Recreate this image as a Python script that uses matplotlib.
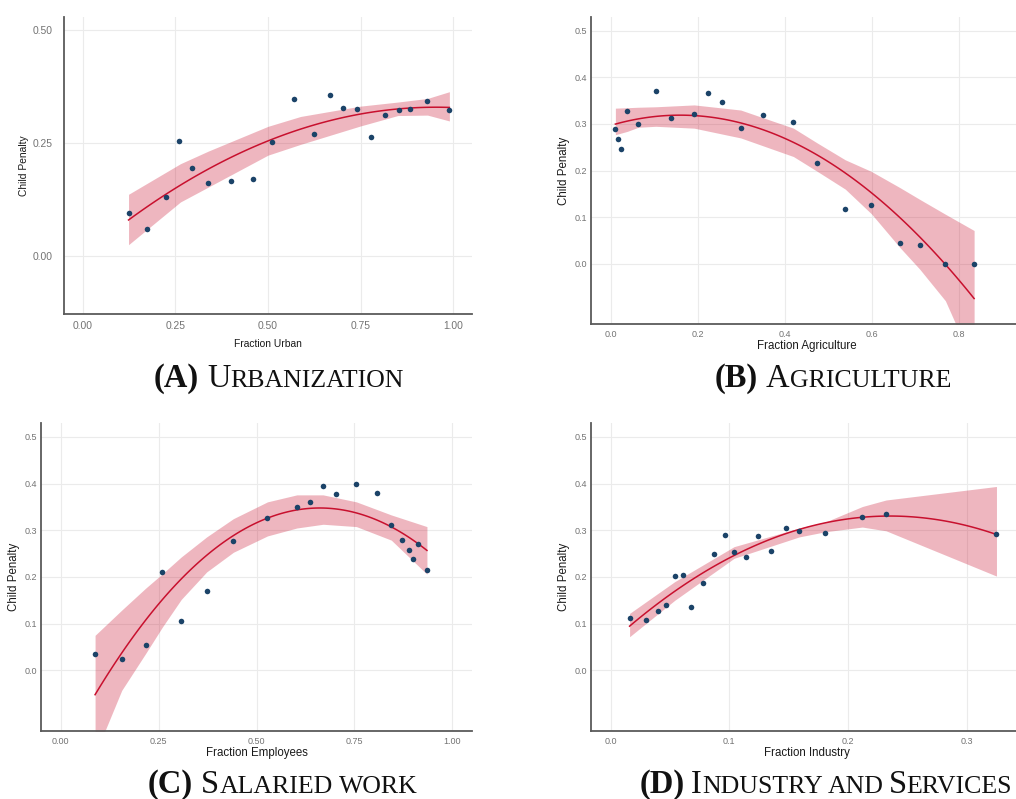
import numpy as np
import matplotlib
matplotlib.use("Agg")
import matplotlib.pyplot as plt

W, H = 1016, 799

# ---- data ----
urban_x = [0.124, 0.173, 0.226, 0.261, 0.296, 0.339, 0.399, 0.460, 0.512, 0.571,
           0.624, 0.668, 0.703, 0.739, 0.779, 0.815, 0.852, 0.883, 0.929, 0.989]
urban_y = [0.094, 0.058, 0.129, 0.254, 0.195, 0.161, 0.166, 0.169, 0.252, 0.347,
           0.271, 0.356, 0.328, 0.326, 0.264, 0.313, 0.323, 0.325, 0.344, 0.323]
# confidence band (read at a few x positions)
urban_bx = [0.124, 0.264, 0.339, 0.500, 0.588, 0.750, 0.850, 0.930, 0.989]
urban_hi = [0.136, 0.204, 0.232, 0.287, 0.309, 0.332, 0.341, 0.349, 0.364]
urban_lo = [0.024, 0.119, 0.152, 0.223, 0.247, 0.288, 0.311, 0.312, 0.299]

agri_x = [0.011, 0.018, 0.023, 0.038, 0.064, 0.104, 0.138, 0.192, 0.223, 0.256,
          0.299, 0.351, 0.420, 0.475, 0.539, 0.599, 0.665, 0.710, 0.769, 0.835]
agri_y = [0.290, 0.268, 0.247, 0.327, 0.300, 0.371, 0.312, 0.322, 0.366, 0.348,
          0.292, 0.320, 0.304, 0.217, 0.118, 0.126, 0.044, 0.039, 0.000, -0.002]
agri_bx = [0.011, 0.038, 0.064, 0.104, 0.192, 0.299, 0.420, 0.475, 0.539, 0.599,
           0.665, 0.710, 0.769, 0.835]
agri_hi = [0.334, 0.335, 0.336, 0.337, 0.341, 0.330, 0.291, 0.259, 0.223, 0.198,
           0.163, 0.138, 0.106, 0.071]
agri_lo = [0.277, 0.284, 0.293, 0.295, 0.291, 0.270, 0.230, 0.198, 0.160, 0.107,
           0.034, -0.012, -0.080, -0.219]

empl_x = [0.088, 0.156, 0.217, 0.260, 0.308, 0.373, 0.441, 0.528, 0.603, 0.636,
          0.670, 0.704, 0.755, 0.807, 0.844, 0.871, 0.889, 0.900, 0.911, 0.935]
empl_y = [0.034, 0.024, 0.054, 0.210, 0.105, 0.169, 0.278, 0.327, 0.350, 0.360,
          0.396, 0.378, 0.400, 0.381, 0.312, 0.280, 0.258, 0.238, 0.270, 0.216]
empl_bx = [0.088, 0.156, 0.217, 0.260, 0.308, 0.373, 0.441, 0.528, 0.603, 0.670,
           0.755, 0.844, 0.935]
empl_hi = [0.075, 0.129, 0.176, 0.207, 0.243, 0.286, 0.325, 0.361, 0.376, 0.376,
           0.361, 0.333, 0.308]
empl_lo = [-0.181, -0.043, 0.036, 0.093, 0.152, 0.211, 0.253, 0.288, 0.305, 0.313,
           0.308, 0.279, 0.206]

indu_x = [0.016, 0.030, 0.040, 0.047, 0.054, 0.061, 0.068, 0.078, 0.087, 0.096,
          0.104, 0.114, 0.124, 0.135, 0.148, 0.159, 0.181, 0.212, 0.232, 0.325]
indu_y = [0.112, 0.107, 0.127, 0.139, 0.202, 0.204, 0.136, 0.187, 0.250, 0.290,
          0.253, 0.243, 0.288, 0.255, 0.305, 0.298, 0.294, 0.329, 0.335, 0.293]
indu_bx = [0.016, 0.054, 0.104, 0.159, 0.181, 0.212, 0.232, 0.325]
indu_hi = [0.122, 0.190, 0.265, 0.305, 0.318, 0.351, 0.365, 0.394]
indu_lo = [0.072, 0.150, 0.240, 0.286, 0.297, 0.307, 0.299, 0.202]

urban_xticks = [0.0, 0.25, 0.5, 0.75, 1.0]
urban_yticks = [0.0, 0.25, 0.5]
agri_xticks = [0.0, 0.2, 0.4, 0.6, 0.8]
empl_xticks = [0.0, 0.25, 0.5, 0.75, 1.0]
indu_xticks = [0.0, 0.1, 0.2, 0.3]
tenth_yticks = [0.0, 0.1, 0.2, 0.3, 0.4, 0.5]

POINT = "#1b4368"
LINE = "#c8102e"
BAND = "#c8102e"


def panel(rect, x, y, bx, blo, bhi, xlim, xticks, xfmt, yticks, yfmt, xlabel,
          lab_size, tick_size, ypad, xpad, xlabpad):
    ax = fig.add_axes(rect)
    ax.set_xlim(*xlim)
    ax.set_ylim(-0.13, 0.53)
    ax.set_xticks(xticks)
    ax.set_xticklabels([xfmt % v for v in xticks])
    ax.set_yticks(yticks)
    ax.set_yticklabels([yfmt % v for v in yticks])
    ax.grid(True, color="#ebebeb", lw=0.8)
    ax.set_axisbelow(True)
    for s in ["top", "right"]:
        ax.spines[s].set_visible(False)
    for s in ["left", "bottom"]:
        ax.spines[s].set_color("#5a5a5a")
        ax.spines[s].set_linewidth(1.3)
    ax.tick_params(length=0, labelsize=tick_size, colors="#737373")
    ax.tick_params(axis="y", pad=ypad)
    ax.tick_params(axis="x", pad=xpad)
    for lbl in ax.get_xticklabels() + ax.get_yticklabels():
        lbl.set_family("Liberation Sans")
    ax.set_xlabel(xlabel, fontsize=lab_size, family="Liberation Sans",
                  color="#1a1a1a", labelpad=xlabpad)
    ax.set_ylabel("Child Penalty", fontsize=lab_size, family="Liberation Sans",
                  color="#1a1a1a", labelpad=3)

    # quadratic fit line
    beta = np.polyfit(x, y, 2)
    xl = np.linspace(min(x), max(x), 120)
    ax.fill_between(bx, blo, bhi, color=BAND, alpha=0.3, lw=0, zorder=2)
    ax.plot(xl, np.polyval(beta, xl), color=LINE, lw=1.1, zorder=3)
    ax.scatter(x, y, s=16, color=POINT, zorder=4, lw=0)
    return ax


def title(x0, y0, parts):
    r = fig.canvas.get_renderer()
    xpos = x0
    for txt, size, weight, gap in parts:
        xpos += gap
        t = fig.text(xpos / W, 1 - y0 / H, txt, fontsize=size, fontweight=weight,
                     family="Liberation Serif", va="baseline", ha="left",
                     color="#111111")
        xpos += t.get_window_extent(r).width


fig = plt.figure(figsize=(W / 100, H / 100), dpi=100)

panel([64 / W, 1 - 314 / H, 408 / W, 297 / H], urban_x, urban_y,
      urban_bx, urban_lo, urban_hi,
      (-0.05, 1.05), urban_xticks, "%.2f", urban_yticks, "%.2f",
      "Fraction Urban", 7.4, 7.4, 8, 5, 6)
panel([591 / W, 1 - 324 / H, 431 / W, 307 / H], agri_x, agri_y,
      agri_bx, agri_lo, agri_hi,
      (-0.045, 0.945), agri_xticks, "%.1f", tenth_yticks, "%.1f",
      "Fraction Agriculture", 8.3, 6.5, 3, 4, 1)
panel([41 / W, 1 - 731 / H, 431 / W, 308 / H], empl_x, empl_y,
      empl_bx, empl_lo, empl_hi,
      (-0.05, 1.05), empl_xticks, "%.2f", tenth_yticks, "%.1f",
      "Fraction Employees", 8.3, 6.5, 3, 4, 1)
panel([591 / W, 1 - 731 / H, 431 / W, 308 / H], indu_x, indu_y,
      indu_bx, indu_lo, indu_hi,
      (-0.0165, 0.3465), indu_xticks, "%.1f", tenth_yticks, "%.1f",
      "Fraction Industry", 8.3, 6.5, 3, 4, 1)

BIG, SMALL = 23.5, 18.6
title(154, 387, [("(A)", BIG, "bold", 0), ("U", BIG, "normal", 8),
                 ("RBANIZATION", SMALL, "normal", 0)])
title(715, 387, [("(B)", BIG, "bold", 0), ("A", BIG, "normal", 8),
                 ("GRICULTURE", SMALL, "normal", 0)])
title(148, 793, [("(C)", BIG, "bold", 0), ("S", BIG, "normal", 8),
                 ("ALARIED", SMALL, "normal", 0), ("WORK", SMALL, "normal", 6)])
title(640, 793, [("(D)", BIG, "bold", 0), ("I", BIG, "normal", 6),
                 ("NDUSTRY", SMALL, "normal", 0), ("AND", SMALL, "normal", 5),
                 ("S", BIG, "normal", 5), ("ERVICES", SMALL, "normal", 0)])

fig.savefig("out.png", dpi=100)
